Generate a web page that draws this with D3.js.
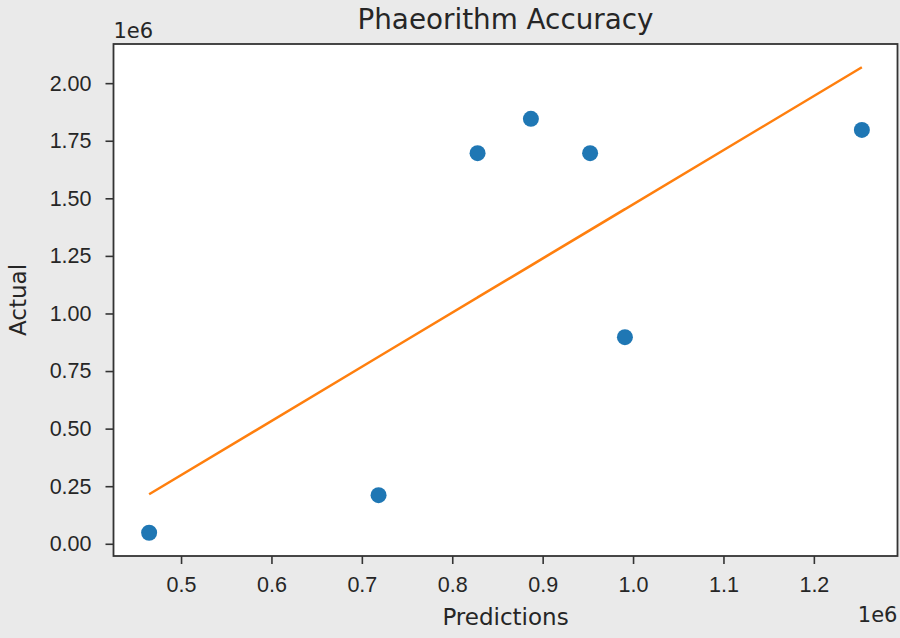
<!DOCTYPE html>
<html>
<head>
<meta charset="utf-8">
<script src="https://cdn.jsdelivr.net/npm/d3@7"></script>
<style>
  body { margin: 0; background: #eaeaea; }
  svg { display: block; font-family: "DejaVu Sans", sans-serif; }
</style>
</head>
<body>
<div class="chart"></div>
<script>
// values in units of 1e6
const predictions = [0.4647, 0.7185, 0.828, 0.887, 0.9525, 0.991, 1.2531];
const actual      = [0.048, 0.211, 1.696, 1.845, 1.696, 0.897, 1.797];
// fitted line as drawn (x, y), in plotting order
const fitX = [0.4647, 0.7185, 0.991, 0.828, 0.887, 0.9525, 1.2531];
const fitY = [0.215, 0.812, 1.453, 1.070, 1.208, 1.362, 2.069];
const xTicks = [0.5, 0.6, 0.7, 0.8, 0.9, 1.0, 1.1, 1.2];
const yTicks = [0, 0.25, 0.5, 0.75, 1.0, 1.25, 1.5, 1.75, 2.0];

const title = "Phaeorithm Accuracy";
const xLabel = "Predictions";
const yLabel = "Actual";

const W = 900, H = 638;
const margin = {top: 44, right: 2.5, bottom: 82, left: 113.5};
const width = W - margin.left - margin.right,
      height = H - margin.top - margin.bottom;

// matplotlib style 5% margins
const xExt = d3.extent(predictions.concat(fitX));
const yExt = d3.extent(actual.concat(fitY));
const xPad = (xExt[1] - xExt[0]) * 0.05, yPad = (yExt[1] - yExt[0]) * 0.05;

const x = d3.scaleLinear().domain([xExt[0] - xPad, xExt[1] + xPad]).range([0, width]);
const y = d3.scaleLinear().domain([yExt[0] - yPad, yExt[1] + yPad]).range([height, 0]);

const svg = d3.select(".chart").append("svg")
    .attr("width", W)
    .attr("height", H);

svg.append("rect").attr("width", W).attr("height", H).attr("fill", "#eaeaea");

const g = svg.append("g")
    .attr("transform", "translate(" + margin.left + "," + margin.top + ")");

g.append("rect")
    .attr("width", width)
    .attr("height", height)
    .attr("fill", "#fff");

// points
g.selectAll("circle")
    .data(predictions)
  .enter().append("circle")
    .attr("cx", d => x(d))
    .attr("cy", (d, i) => y(actual[i]))
    .attr("r", 8)
    .attr("fill", "#1f77b4");

// fitted line
const line = d3.line()
    .x(d => x(d[0]))
    .y(d => y(d[1]));
g.append("path")
    .datum(fitX.map((d, i) => [d, fitY[i]]))
    .attr("d", line)
    .attr("fill", "none")
    .attr("stroke", "#ff7f0e")
    .attr("stroke-width", 2.5);

// axes
const xAxis = d3.axisBottom(x)
    .tickValues(xTicks)
    .tickSize(8)
    .tickPadding(13)
    .tickFormat(d3.format(".1f"));
const yAxis = d3.axisLeft(y)
    .tickValues(yTicks)
    .tickSize(8)
    .tickPadding(14)
    .tickFormat(d3.format(".2f"));

const gx = g.append("g")
    .attr("transform", "translate(0," + height + ")")
    .call(xAxis);
const gy = g.append("g").call(yAxis);

[gx, gy].forEach(a => {
  a.select(".domain").remove();
  a.selectAll("line").attr("stroke", "#333").attr("stroke-width", 1.6);
  a.selectAll("text").attr("fill", "#262626").style("font-size", "21.5px");
});

// frame
g.append("rect")
    .attr("width", width)
    .attr("height", height)
    .attr("fill", "none")
    .attr("stroke", "#333")
    .attr("stroke-width", 1.8);

// labels
svg.append("text")
    .attr("x", margin.left + width / 2)
    .attr("y", 29)
    .attr("text-anchor", "middle")
    .attr("fill", "#262626")
    .style("font-size", "27.8px")
    .text(title);

svg.append("text")
    .attr("x", margin.left + width / 2)
    .attr("y", 625)
    .attr("text-anchor", "middle")
    .attr("fill", "#262626")
    .style("font-size", "23px")
    .text(xLabel);

svg.append("text")
    .attr("transform", "translate(26," + (margin.top + height / 2) + ") rotate(-90)")
    .attr("text-anchor", "middle")
    .attr("fill", "#262626")
    .style("font-size", "23px")
    .text(yLabel);

// offset texts
svg.append("text")
    .attr("x", margin.left)
    .attr("y", 38)
    .attr("fill", "#262626")
    .style("font-size", "21px")
    .text("1e6");

svg.append("text")
    .attr("x", margin.left + width)
    .attr("y", 622)
    .attr("text-anchor", "end")
    .attr("fill", "#262626")
    .style("font-size", "21px")
    .text("1e6");
</script>
</body>
</html>
